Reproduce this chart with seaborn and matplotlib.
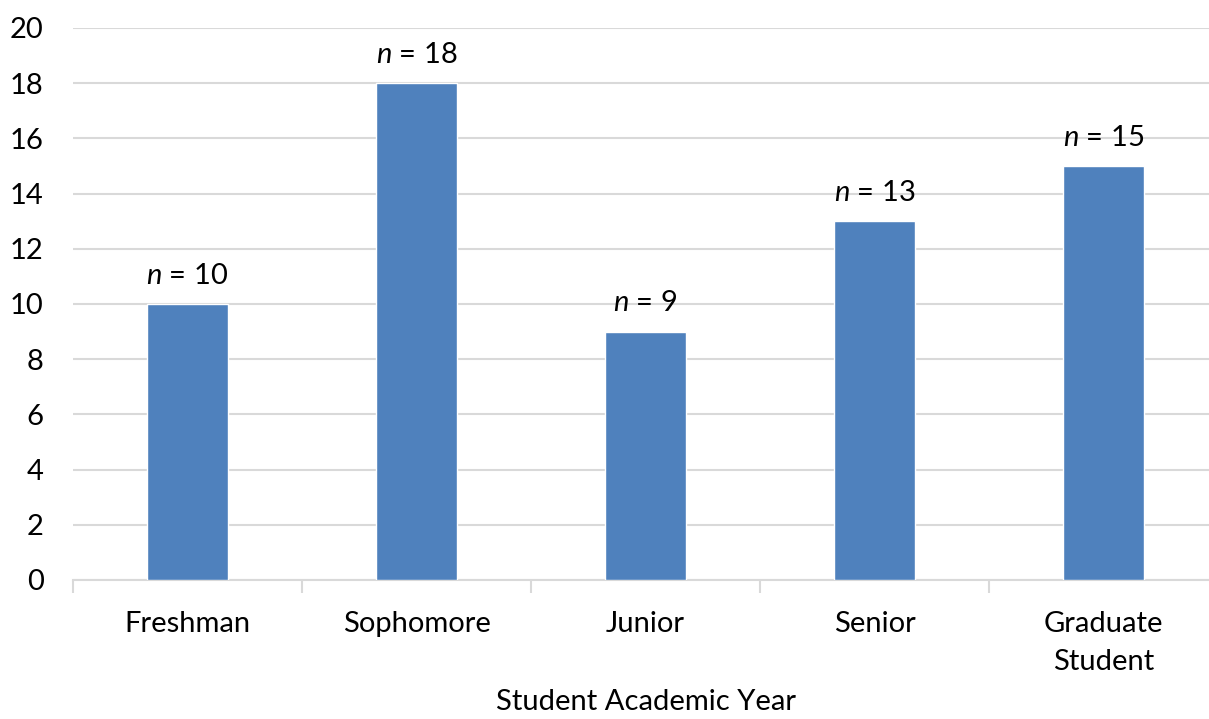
import numpy as np
import pandas as pd
import seaborn as sns
import matplotlib.pyplot as plt

# data
years = ["Freshman", "Sophomore", "Junior", "Senior", "Graduate\nStudent"]
counts = [10, 18, 9, 13, 15]
yticks = [0, 2, 4, 6, 8, 10, 12, 14, 16, 18, 20]

df = pd.DataFrame({"year": years, "count": counts})

sns.set_style("white")
plt.rcParams['font.family'] = ['Lato', 'DejaVu Sans']
plt.rcParams['mathtext.fontset'] = 'custom'
plt.rcParams['mathtext.it'] = 'Lato:italic'
plt.rcParams['mathtext.rm'] = 'Lato'
plt.rcParams['text.color'] = 'black'
plt.rcParams['xtick.color'] = 'black'
plt.rcParams['ytick.color'] = 'black'
plt.rcParams['axes.labelcolor'] = 'black'

fs = 21

fig = plt.figure(figsize=(12.09, 7.19), dpi=100)
# plot area runs a little past the right edge, like the original (cropped)
ax = fig.add_axes([73 / 1209, 1 - 580 / 719, 1145 / 1209, 552 / 719])

sns.barplot(data=df, x="year", y="count", color="#4F81BD", width=0.355,
            saturation=1, ax=ax, zorder=3)

ax.set_ylim(0, 20)
ax.set_xlim(-0.5, len(years) - 0.5)
ax.set_yticks(yticks)
ax.grid(axis="y", color="#D9D9D9", linewidth=1.5, zorder=0)
ax.set_axisbelow(True)

for s in ["top", "right", "left"]:
    ax.spines[s].set_visible(False)
ax.spines["bottom"].set_color("#D9D9D9")
ax.spines["bottom"].set_linewidth(1.5)

ax.tick_params(axis="y", length=0, pad=21, labelsize=fs)
ax.tick_params(axis="x", which="major", length=0, pad=22, labelsize=fs)
ax.set_xticks(np.arange(-0.5, len(years)), minor=True)
ax.tick_params(axis="x", which="minor", bottom=True, length=9, width=1.5,
               color="#D9D9D9")

for lab in ax.get_xticklabels():
    lab.set_verticalalignment("top")
    lab.set_linespacing(1.6)

ax.set_xlabel("Student Academic Year", fontsize=fs, va="center")
ax.xaxis.set_label_coords(0.5, -122 / 552)
ax.set_ylabel("")

ax.bar_label(ax.containers[0], labels=[r"$n$ = %d" % c for c in counts],
             padding=11, fontsize=fs)

fig.savefig("out.png", dpi=100)
